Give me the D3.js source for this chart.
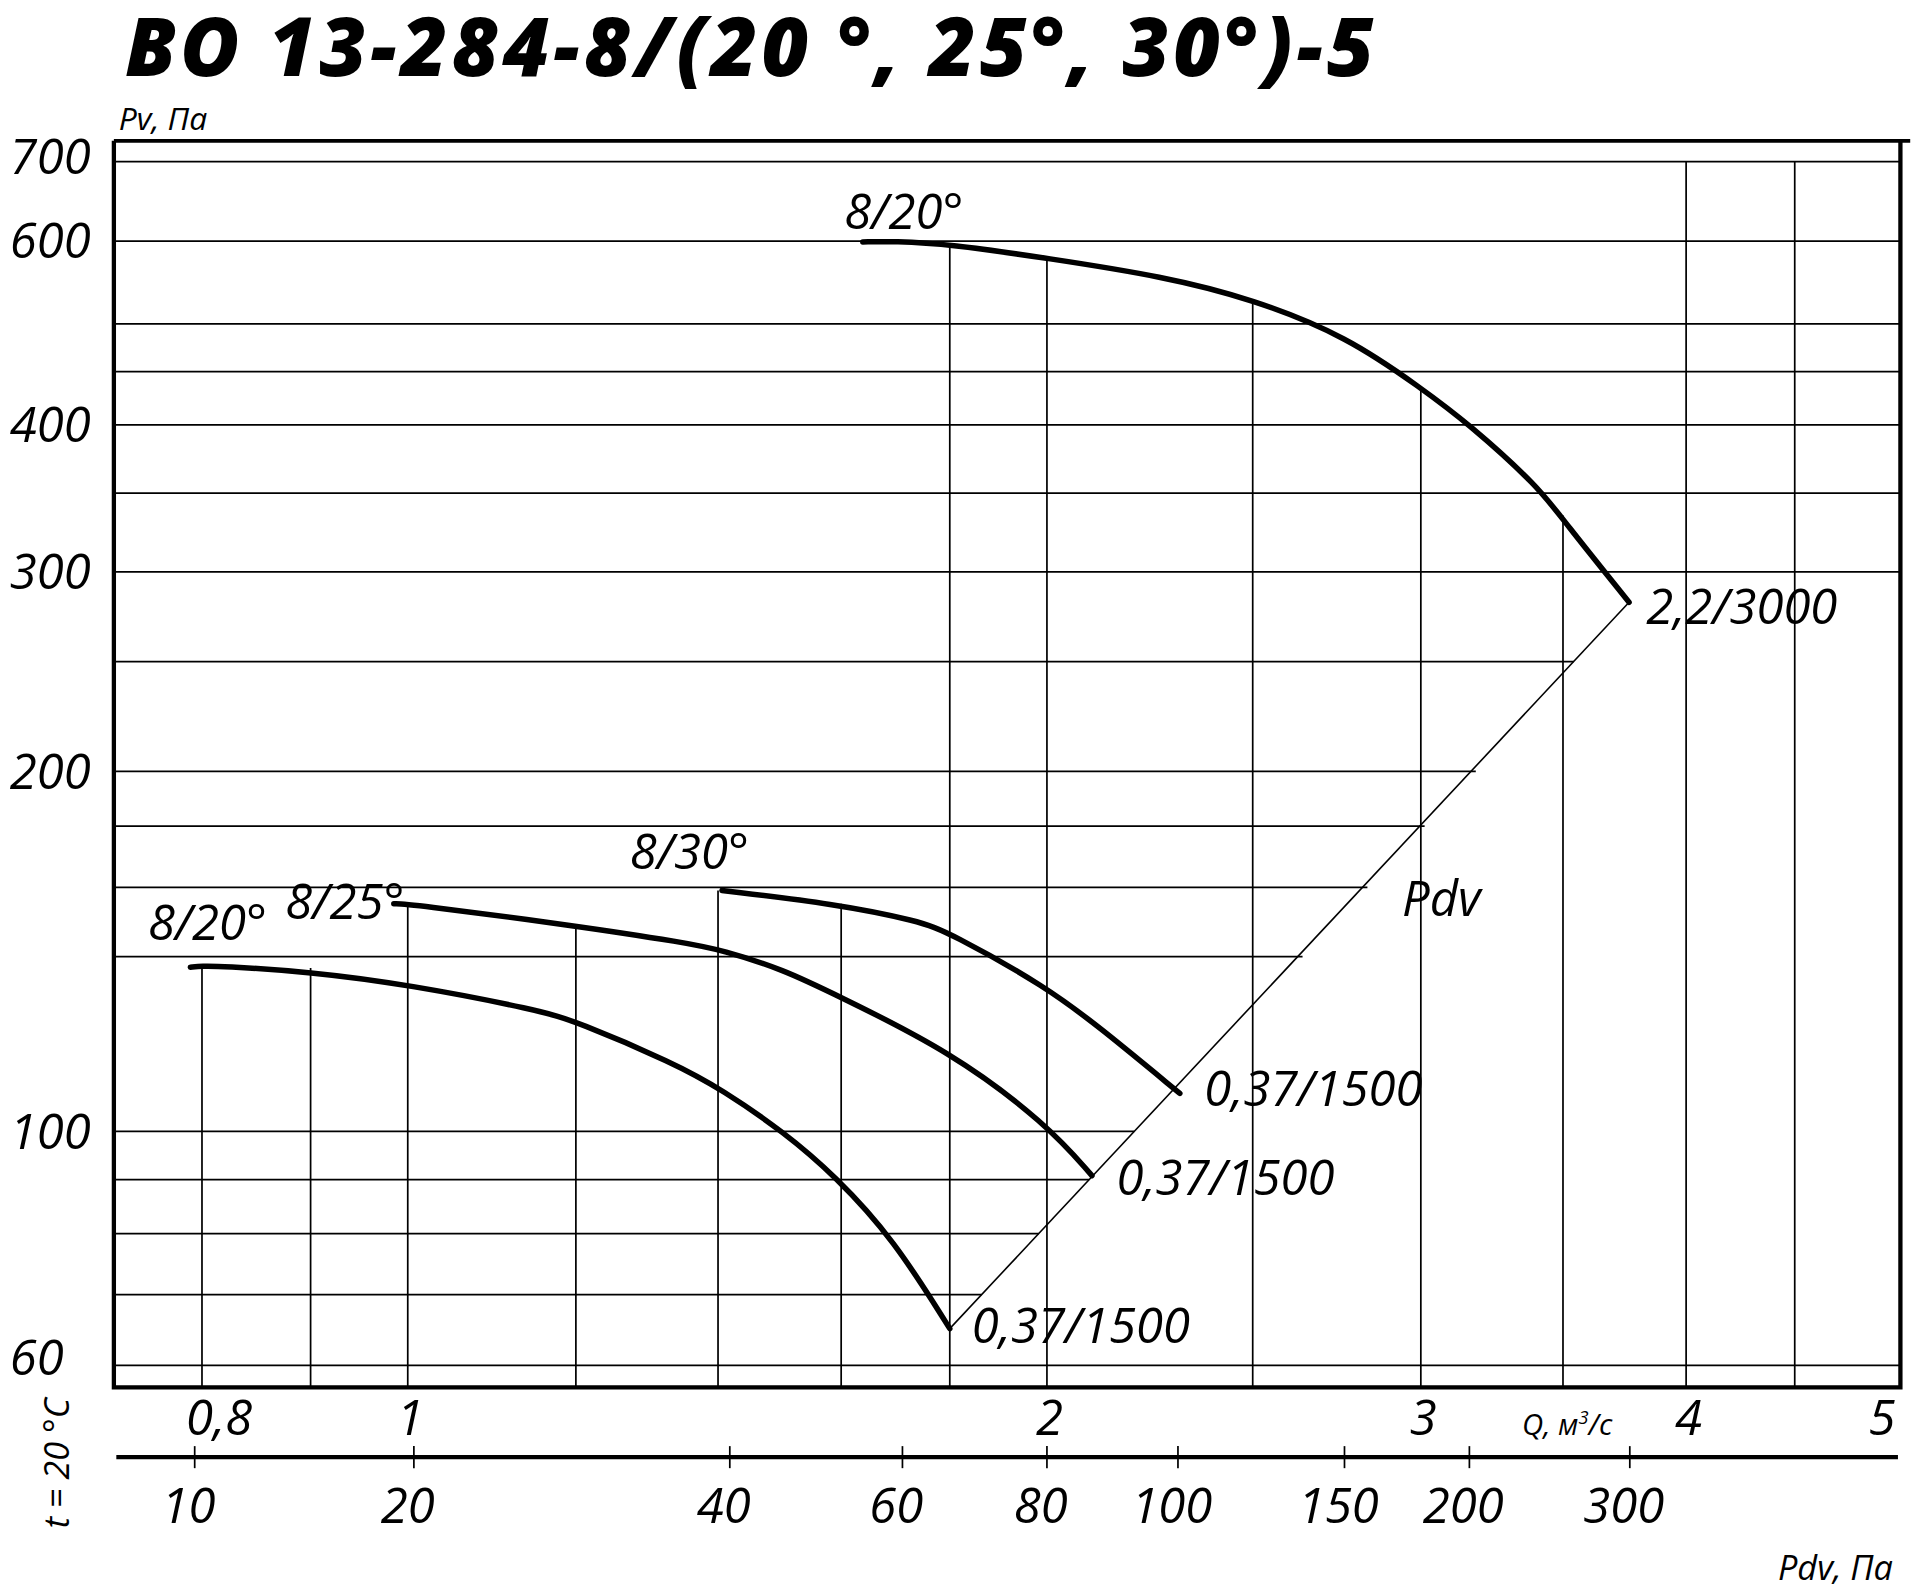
<!DOCTYPE html>
<html>
<head>
<meta charset="utf-8">
<script src="https://cdn.jsdelivr.net/npm/d3@7"></script>
<style>
  body { margin: 0; background: #fff; }
  text { font-family: "Open Sans", sans-serif; font-style: italic; fill: #000; }
</style>
</head>
<body>
<svg id="chart"></svg>
<script>
// drawing units (viewBox), scaled up to the window
const W = 1568, H = 1298.5;

// axis calibrations
const qTicks = [0.8, 1, 2, 3, 4, 5];
const qTickLabels = ["0,8", "1", "2", "3", "4", "5"];
const qGrid = [0.8, 0.9, 1, 1.2, 1.4, 1.6, 1.8, 2, 2.5, 3, 3.5, 4, 4.5];
const qGridTop = [137, 137, 155, 149, 159, 155, 596, 580, 528, 434, 335, 700, 700];
const pTicks = [60, 100, 200, 300, 400, 600, 700];
const pGrid = [60, 70, 80, 90, 100, 140, 160, 180, 200, 250, 300, 350, 400, 450, 500, 600, 700];
const pdvTicks = [10, 20, 40, 60, 80, 100, 150, 200, 300];

// curves: [Q m3/s, Pv Pa]
const curve20big = [[1.638, 599], [1.694, 600], [1.8, 596], [2, 578], [2.27, 555], [2.5, 528],
  [2.77, 486], [3.0, 434], [3.16, 401], [3.41, 354], [3.5, 332], [3.76, 282]];
const curve30 = [[1.406, 159], [1.589, 155], [1.74, 150], [1.8, 146.6], [2, 132], [2.12, 122], [2.31, 107.6]];
const curve25 = [[0.985, 155], [1, 155], [1.2, 148.6], [1.352, 143.8], [1.406, 141.8], [1.504, 136.5],
  [1.589, 130.2], [1.8, 116.8], [2, 101.4], [2.1, 90.8]];
const curve20small = [[0.79, 137.2], [0.8, 137.5], [0.816, 137.5], [0.899, 136], [1, 132.7], [1.153, 126.3],
  [1.2, 123.6], [1.334, 114.1], [1.406, 108.4], [1.504, 99.8], [1.589, 90.8], [1.694, 79], [1.8, 65]];
const pdvLine = [[1.8, 65], [3.76, 282]];

const svg = d3.select("#chart")
  .attr("width", 1920).attr("height", 1590)
  .attr("viewBox", `0 0 ${W} ${H}`);

const pLeft = 93, pRight = 1552, pTop = 115, pBottom = 1133;

const x = d3.scaleLog().domain([1, 2]).range([333, 855]);
const y = d3.scaleLog()
  .domain([60, 100, 200, 300, 400, 600, 700])
  .range([1115, 924, 630, 467, 347, 197, 132]);
const pdv = d3.scaleLog()
  .domain([10, 20, 40, 60, 80, 100, 150, 200, 300])
  .range([159, 338, 596, 737, 855, 962, 1098, 1200, 1331]);

// x position of the Pdv line at pixel height py
const d0 = [x(pdvLine[0][0]), y(pdvLine[0][1])], d1 = [x(pdvLine[1][0]), y(pdvLine[1][1])];
const diagX = py => d0[0] + (py - d0[1]) * (d1[0] - d0[0]) / (d1[1] - d0[1]);

// horizontal grid
svg.append("g").selectAll("line").data(pGrid).join("line")
  .attr("x1", pLeft)
  .attr("x2", d => (d >= 300 || d === 60) ? pRight : Math.min(pRight, diagX(y(d)) + (d >= 140 && d <= 200 ? 4 : 0)))
  .attr("y1", d => y(d)).attr("y2", d => y(d))
  .attr("stroke", "#000").attr("stroke-width", 1.4);

// vertical grid
svg.append("g").selectAll("line").data(qGrid).join("line")
  .attr("x1", d => x(d)).attr("x2", d => x(d))
  .attr("y1", (d, i) => Math.max(pTop, y(qGridTop[i]))).attr("y2", pBottom)
  .attr("stroke", "#000").attr("stroke-width", 1.4);

// frame
svg.append("path")
  .attr("d", `M${pLeft},${pTop}V${pBottom}H${pRight}V${pTop}`)
  .attr("fill", "none").attr("stroke", "#000").attr("stroke-width", 3.5);
svg.append("line").attr("x1", pLeft).attr("x2", 1560).attr("y1", pTop).attr("y2", pTop)
  .attr("stroke", "#000").attr("stroke-width", 3);

// Pdv line
svg.append("line")
  .attr("x1", d0[0]).attr("y1", d0[1]).attr("x2", d1[0]).attr("y2", d1[1])
  .attr("stroke", "#000").attr("stroke-width", 1.3);

const line = d3.line().x(d => x(d[0])).y(d => y(d[1])).curve(d3.curveBasis);
[curve20big, curve30, curve25, curve20small].forEach(c => {
  svg.append("path").attr("d", line(c))
    .attr("fill", "none").attr("stroke", "#000").attr("stroke-width", 4.5).attr("stroke-linecap", "round");
});

// y labels
svg.append("g").selectAll("text").data(pTicks).join("text")
  .attr("x", 8).attr("y", d => y(d) + (d === 60 ? 8 : 14) - (d === 700 ? 4 : 0))
  .attr("font-size", 40).text(d => d);

// Q labels
svg.append("g").selectAll("text").data(qTicks).join("text")
  .attr("x", d => x(d) + (d === 5 ? -8 : d === 0.8 ? 14 : 2)).attr("y", 1172)
  .attr("text-anchor", "middle").attr("font-size", 40)
  .text((d, i) => qTickLabels[i]);

// Pdv axis
const gp = svg.append("g");
gp.append("line").attr("x1", 95).attr("x2", 1550).attr("y1", 1190).attr("y2", 1190)
  .attr("stroke", "#000").attr("stroke-width", 3.5);
gp.selectAll(".tk").data(pdvTicks).join("line").attr("class", "tk")
  .attr("x1", d => pdv(d)).attr("x2", d => pdv(d)).attr("y1", 1181).attr("y2", 1199)
  .attr("stroke", "#000").attr("stroke-width", 1.4);
gp.selectAll("text").data(pdvTicks).join("text")
  .attr("x", d => pdv(d) - 5).attr("y", 1244)
  .attr("text-anchor", "middle").attr("font-size", 40).text(d => d);

// titles & annotations
svg.append("text").attr("x", 102).attr("y", 62)
  .attr("font-size", 66).attr("font-weight", 800)
  .attr("textLength", 1020).attr("lengthAdjust", "spacing")
  .text("ВО 13-284-8/(20 °, 25°, 30°)-5");
svg.append("text").attr("x", 97).attr("y", 106).attr("font-size", 26).text("Pv, Па");
svg.append("text").attr("x", 1243).attr("y", 1172).attr("font-size", 24)
  .html("Q, м<tspan dy='-9' font-size='15'>3</tspan><tspan dy='9'>/с</tspan>");
svg.append("text").attr("x", 1452).attr("y", 1290).attr("font-size", 28).text("Pdv, Па");
svg.append("text").attr("transform", "translate(56,1195) rotate(-90)")
  .attr("text-anchor", "middle").attr("font-size", 28).text("t = 20 °С");

const ann = [
  ["8/20°", 1.69, 600, 10, -10, "middle"],
  ["2,2/3000", 3.76, 282, 14, 18, "start"],
  ["8/30°", 1.39, 159, -18, -18, "middle"],
  ["8/25°", 0.985, 155, -40, 12, "middle"],
  ["8/20°", 0.79, 137.2, 14, -22, "middle"],
  ["0,37/1500", 2.31, 107.6, 20, 10, "start"],
  ["0,37/1500", 2.1, 90.8, 20, 16, "start"],
  ["0,37/1500", 1.8, 65, 18, 12, "start"]
];
svg.append("g").selectAll("text").data(ann).join("text")
  .attr("x", d => x(d[1]) + d[3]).attr("y", d => y(d[2]) + d[4])
  .attr("text-anchor", d => d[5]).attr("font-size", 40).text(d => d[0]);
svg.append("text").attr("x", 1145).attr("y", 748).attr("font-size", 40).text("Pdv");
</script>
</body>
</html>
